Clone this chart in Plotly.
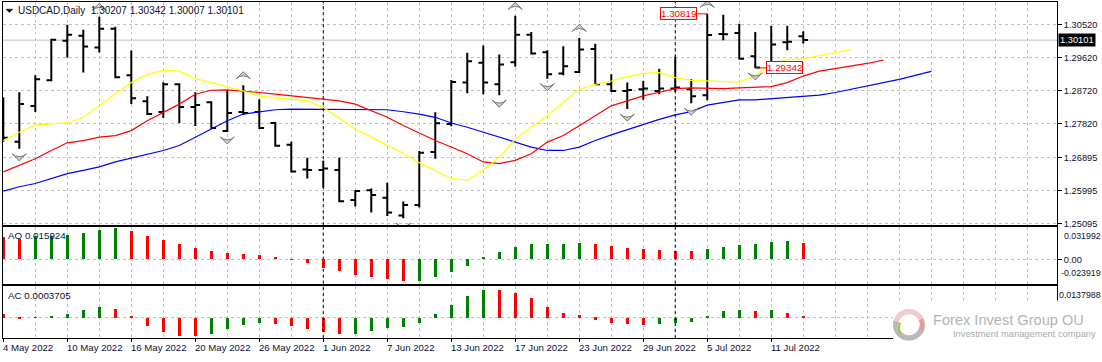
import numpy as np
import plotly.graph_objects as go

W, H = 1102, 362

# ---------------- data ----------------
date_labels = ["4 May 2022", "10 May 2022", "16 May 2022", "20 May 2022", "26 May 2022",
               "1 Jun 2022", "7 Jun 2022", "13 Jun 2022", "17 Jun 2022", "23 Jun 2022",
               "29 Jun 2022", "5 Jul 2022", "11 Jul 2022"]
date_label_bars = [0, 4, 8, 12, 16, 20, 24, 28, 32, 36, 40, 44, 48]
month_start_bars = [20, 42]

open_ = [1.27729, 1.27322, 1.28298, 1.29002, 1.30086, 1.30222, 1.29897, 1.30412, 1.29138, 1.28433,
         1.28135, 1.28894, 1.28271, 1.28406, 1.27620, 1.28135, 1.28135, 1.27837, 1.27241, 1.26563,
         1.26550, 1.26550, 1.25731, 1.26002, 1.25796, 1.25309, 1.25596, 1.27043, 1.27810, 1.28940,
         1.29482, 1.28894, 1.29498, 1.30249, 1.29769, 1.29192, 1.29227, 1.29861, 1.28894, 1.28712,
         1.28758, 1.28712, 1.28777, 1.28758, 1.28596, 1.30268, 1.30295, 1.29661, 1.29482, 1.30040,
         1.30207]
high = [1.28542, 1.28677, 1.29138, 1.30141, 1.30520, 1.30384, 1.30737, 1.30466, 1.29815, 1.28569,
        1.28948, 1.28921, 1.28677, 1.28433, 1.28731, 1.28867, 1.28487, 1.27864, 1.27322, 1.26889,
        1.26807, 1.26889, 1.26002, 1.26048, 1.26203, 1.25688, 1.27070, 1.28127, 1.29011, 1.29753,
        1.29951, 1.29707, 1.30764, 1.30322, 1.29824, 1.29932, 1.30160, 1.30005, 1.29165, 1.28940,
        1.28983, 1.29319, 1.29645, 1.29029, 1.30819, 1.30791, 1.30547, 1.30322, 1.30493, 1.30493,
        1.30342]
low = [1.27322, 1.27132, 1.28135, 1.28975, 1.29626, 1.29219, 1.29761, 1.29057, 1.28352, 1.28054,
       1.27973, 1.27837, 1.27756, 1.27675, 1.27593, 1.28054, 1.27674, 1.27187, 1.26482, 1.26319,
       1.26076, 1.25669, 1.25553, 1.25390, 1.25298, 1.25235, 1.25525, 1.26861, 1.27748, 1.28650,
       1.28623, 1.28596, 1.29374, 1.29707, 1.29048, 1.29138, 1.29200, 1.28867, 1.28685, 1.28216,
       1.28469, 1.28623, 1.28690, 1.28379, 1.28460, 1.30095, 1.29570, 1.29342, 1.29409, 1.29824,
       1.30007]
close = [1.27431, 1.28352, 1.29029, 1.30113, 1.30249, 1.29924, 1.30412, 1.29084, 1.28515, 1.28081,
         1.28894, 1.28271, 1.28325, 1.27702, 1.28108, 1.28108, 1.27702, 1.27214, 1.26509, 1.26550,
         1.26590, 1.25696, 1.25975, 1.25867, 1.25390, 1.25596, 1.27024, 1.27829, 1.28956, 1.29525,
         1.28940, 1.29436, 1.30249, 1.29734, 1.29165, 1.29390, 1.29842, 1.28894, 1.28712, 1.28740,
         1.28777, 1.28777, 1.28805, 1.28569, 1.30241, 1.30260, 1.29590, 1.29350, 1.29978, 1.30059,
         1.30101]

# Alligator lines (already shifted forward: lips 3, teeth 5, jaw 8 bars)
lips = [1.27357, 1.27585, 1.27783, 1.27810, 1.27837, 1.27992, 1.28306, 1.28642, 1.28940, 1.29165,
        1.29273, 1.29254, 1.29048, 1.28940, 1.28832, 1.28712, 1.28577, 1.28515, 1.28487, 1.28441,
        1.28263, 1.27973, 1.27674, 1.27450, 1.27222, 1.27011, 1.26753, 1.26544, 1.26319, 1.26273,
        1.26544, 1.26908, 1.27403, 1.27721, 1.28035, 1.28398, 1.28758, 1.28894, 1.28983, 1.29103,
        1.29192, 1.29211, 1.29076, 1.29002, 1.28983, 1.28983, 1.28956, 1.29119, 1.29436, 1.29571,
        1.29590, 1.29680, 1.29769, 1.29842]
teeth = [1.26501, 1.26680, 1.26861, 1.27086, 1.27295, 1.27357, 1.27450, 1.27493, 1.27628, 1.27899,
         1.28127, 1.28352, 1.28623, 1.28731, 1.28740, 1.28712, 1.28669, 1.28623, 1.28577, 1.28515,
         1.28487, 1.28441, 1.28352, 1.28170, 1.27992, 1.27769, 1.27566, 1.27357, 1.27179, 1.26997,
         1.26772, 1.26726, 1.26815, 1.26997, 1.27314, 1.27493, 1.27764, 1.28035, 1.28306, 1.28441,
         1.28577, 1.28677, 1.28777, 1.28794, 1.28777, 1.28777, 1.28794, 1.28821, 1.28832, 1.28940,
         1.29119, 1.29254, 1.29319, 1.29390, 1.29463, 1.29553]
jaw = [1.25975, 1.26095, 1.26184, 1.26319, 1.26455, 1.26544, 1.26637, 1.26772, 1.26880, 1.26997,
       1.27086, 1.27222, 1.27450, 1.27674, 1.27899, 1.28081, 1.28143, 1.28198, 1.28216, 1.28216,
       1.28216, 1.28198, 1.28198, 1.28216, 1.28198, 1.28143, 1.28081, 1.27992, 1.27837, 1.27721,
       1.27585, 1.27450, 1.27314, 1.27179, 1.27086, 1.27086, 1.27179, 1.27357, 1.27512, 1.27656,
       1.27810, 1.27937, 1.28059, 1.28149, 1.28325, 1.28398, 1.28469, 1.28469, 1.28506, 1.28534,
       1.28561, 1.28596, 1.28669, 1.28758, 1.28832, 1.28921, 1.29029, 1.29138, 1.29246]

fractal_up_bars = [6, 15, 32, 36, 44]
fractal_down_bars = [1, 14, 25, 31, 34, 39, 43, 47]

ao = [0.0223, 0.0200, 0.0231, 0.0233, 0.0236, 0.0263, 0.0293, 0.0307, 0.0283, 0.0233,
      0.0193, 0.0153, 0.0113, 0.0083, 0.0063, 0.0053, 0.0043, 0.0023, 0.0003, -0.0033,
      -0.0083, -0.0113, -0.0153, -0.0173, -0.0193, -0.0218, -0.0216, -0.0177, -0.0127, -0.0067,
      0.0020, 0.0070, 0.0120, 0.0147, 0.0150, 0.0153, 0.0160, 0.0150, 0.0130, 0.0110,
      0.0100, 0.0090, 0.0082, 0.0079, 0.0100, 0.0120, 0.0140, 0.0150, 0.0170, 0.0180,
      0.015924]
ac = [0.00172, -0.00073, 0.00030, 0.00056, 0.00172, 0.00345, 0.00474, 0.00388, 0.00086, -0.00375,
      -0.00634, -0.00806, -0.00815, -0.00720, -0.00504, -0.00332, -0.00246, -0.00289, -0.00375, -0.00504,
      -0.00634, -0.00720, -0.00711, -0.00590, -0.00461, -0.00418, -0.00246, 0.00172, 0.00560, 0.00948,
      0.01207, 0.01194, 0.01078, 0.00862, 0.00474, 0.00216, 0.00129, -0.00086, -0.00216, -0.00259,
      -0.00302, -0.00259, -0.00216, -0.00172, 0.00086, 0.00302, 0.00345, 0.00302, 0.00345, 0.00216,
      0.0003705]

price_ticks = [1.30520, 1.29620, 1.28720, 1.27820, 1.26895, 1.25995, 1.25095]
ao_max_label, ao_min_label = 0.031992, -0.023919
ac_max_label = 0.0137988
symbol_text = "USDCAD,Daily"

# ---------------- layout helpers ----------------
FONT = "Liberation Sans, Arial, sans-serif"
FS = 9.3
GRID = "#c0c0c0"
GREEN, RED = "#008000", "#ff0000"
TXT = "#101030"


def px_x(x):
    return x / W


def px_y(y):
    return 1 - y / H


X_DOM = [px_x(2.5), px_x(1057)]
MAIN_DOM = [px_y(227), px_y(2)]
AO_DOM = [px_y(286), px_y(229)]
AC_DOM = [px_y(341), px_y(288)]
X_RANGE = [-0.05, 65.86]
MAIN_RANGE = [1.25046, 1.31143]

bars = list(range(len(open_)))


def osc_colors(vals):
    cols = [RED]
    for i in range(1, len(vals)):
        cols.append(GREEN if vals[i] > vals[i - 1] else RED)
    return cols


fig = go.Figure()

# Alligator
for vals, col in [(jaw, "#0000ff"), (teeth, "#ff0000"), (lips, "#ffff00")]:
    fig.add_trace(go.Scatter(x=list(range(len(vals))), y=vals, mode="lines",
                             line=dict(color=col, width=1.2), hoverinfo="skip",
                             xaxis="x", yaxis="y"))

# Price bars
fig.add_trace(go.Ohlc(x=bars, open=open_, high=high, low=low, close=close,
                      increasing=dict(line=dict(color="black", width=2)),
                      decreasing=dict(line=dict(color="black", width=2)),
                      tickwidth=0.3, hoverinfo="skip", xaxis="x", yaxis="y"))

# Fractals (marker tip sits at the given price)
up_off = 0.0037
dn_off = 0.0033
fig.add_trace(go.Scatter(x=fractal_up_bars, y=[high[i] + up_off for i in fractal_up_bars],
                         mode="markers", hoverinfo="skip", xaxis="x", yaxis="y",
                         marker=dict(symbol="arrow-wide", angle=0, size=10, color="#cccccc",
                                     line=dict(color="#777777", width=1))))
fig.add_trace(go.Scatter(x=fractal_down_bars, y=[low[i] - dn_off for i in fractal_down_bars],
                         mode="markers", hoverinfo="skip", xaxis="x", yaxis="y",
                         marker=dict(symbol="arrow-wide", angle=180, size=10, color="#cccccc",
                                     line=dict(color="#777777", width=1))))

# AO / AC
fig.add_trace(go.Bar(x=bars, y=ao, marker=dict(color=osc_colors(ao), line=dict(width=0)),
                     width=0.17, hoverinfo="skip", xaxis="x2", yaxis="y2"))
fig.add_trace(go.Bar(x=bars, y=ac, marker=dict(color=osc_colors(ac), line=dict(width=0)),
                     width=0.17, hoverinfo="skip", xaxis="x3", yaxis="y3"))

major_x = date_label_bars
minor_x = [i for i in range(0, 66, 2) if i not in major_x]


def xaxis_cfg(anchor, ticks):
    return dict(domain=X_DOM, range=X_RANGE, anchor=anchor, showticklabels=False,
                tickmode="array", tickvals=major_x, ticks="outside" if ticks else "",
                ticklen=3, tickcolor="black", showgrid=True, gridcolor=GRID, gridwidth=1,
                griddash="3px,3px",
                minor=dict(tickvals=minor_x, showgrid=True, gridcolor=GRID, griddash="3px,3px",
                           ticks=""),
                showline=True, mirror=True, linecolor="black", linewidth=1, zeroline=False,
                rangeslider=dict(visible=False), fixedrange=True)


fig.update_layout(
    width=W, height=H, margin=dict(l=0, r=0, t=0, b=0),
    paper_bgcolor="white", plot_bgcolor="white", showlegend=False, bargap=0,
    font=dict(family=FONT, size=FS, color="black"),
    xaxis=xaxis_cfg("y", False),
    xaxis2=xaxis_cfg("y2", False),
    xaxis3=xaxis_cfg("y3", True),
    yaxis=dict(domain=MAIN_DOM, range=MAIN_RANGE, anchor="x", side="right",
               tickmode="array", tickvals=price_ticks, ticktext=[f"{v:.5f}" for v in price_ticks],
               ticks="outside", ticklen=4, tickcolor="black", tickfont=dict(size=FS, color=TXT),
               showgrid=True, gridcolor=GRID, griddash="3px,3px",
               showline=True, mirror=True, linecolor="black", linewidth=1, zeroline=False),
    yaxis2=dict(domain=AO_DOM, range=[ao_min_label, ao_max_label], anchor="x2", side="right",
                tickmode="array", tickvals=[0], ticktext=["0.00"], ticks="outside", ticklen=4,
                tickcolor="black", tickfont=dict(size=FS, color=TXT), showgrid=True, gridcolor=GRID,
                griddash="3px,3px", showline=True, mirror=True, linecolor="black", linewidth=1,
                zeroline=False),
    yaxis3=dict(domain=AC_DOM, range=[-0.00905, ac_max_label], anchor="x3", side="right",
                tickmode="array", tickvals=[0], showticklabels=False, ticks="",
                showgrid=True, gridcolor=GRID, griddash="3px,3px", showline=True, mirror=True,
                linecolor="black", linewidth=1, zeroline=False),
)

shapes = []
ann = []

# bid line
shapes.append(dict(type="line", xref="x domain", yref="y", x0=0, x1=1, y0=close[-1], y1=close[-1],
                   line=dict(color="#c0c0c0", width=1), layer="below"))
# month separators
for b in month_start_bars:
    for xr, yr in [("x", "y domain"), ("x2", "y2 domain"), ("x3", "y3 domain")]:
        shapes.append(dict(type="line", xref=xr, yref=yr, x0=b, x1=b, y0=0, y1=1,
                           line=dict(color="black", width=1, dash="3px,3px"), layer="above"))

# title triangle
tri = f"M {px_x(6)},{px_y(9.3)} L {px_x(12.7)},{px_y(9.3)} L {px_x(9.35)},{px_y(12.6)} Z"
shapes.append(dict(type="path", xref="paper", yref="paper", path=tri,
                   fillcolor="black", line=dict(color="black", width=0.5)))

ann.append(dict(xref="paper", yref="paper", x=px_x(16), y=px_y(10.7), xanchor="left", yanchor="middle",
                showarrow=False,
                text=f"{symbol_text}  {open_[-1]:.5f} {high[-1]:.5f} {low[-1]:.5f} {close[-1]:.5f}",
                font=dict(size=10, color=TXT)))

# current price box
ann.append(dict(xref="paper", yref="y", x=px_x(1058), y=close[-1], xanchor="left", yanchor="middle",
                showarrow=False, text=f"{close[-1]:.5f}", bgcolor="black", borderpad=1,
                font=dict(size=FS, color="white")))

# high / low markers
hi_i = int(np.argmax(high))
lo_i = 47
ann.append(dict(xref="x", yref="y", x=hi_i - 0.63, y=high[hi_i], xanchor="right", yanchor="middle",
                showarrow=False, text=f"{high[hi_i]:.5f}", bgcolor="white", bordercolor=RED,
                borderwidth=1, borderpad=0, font=dict(size=9.8, color=RED)))
shapes.append(dict(type="line", xref="x", yref="y", x0=hi_i - 0.63, x1=hi_i, y0=high[hi_i], y1=high[hi_i],
                   line=dict(color=RED, width=1)))
ann.append(dict(xref="x", yref="y", x=lo_i + 0.66, y=low[lo_i], xanchor="left", yanchor="middle",
                showarrow=False, text=f"{low[lo_i]:.5f}", bgcolor="white", bordercolor=RED,
                borderwidth=1, borderpad=0, font=dict(size=9.8, color=RED)))
shapes.append(dict(type="line", xref="x", yref="y", x0=lo_i, x1=lo_i + 0.66, y0=low[lo_i], y1=low[lo_i],
                   line=dict(color=RED, width=1)))

# indicator labels
ann.append(dict(xref="paper", yref="paper", x=px_x(6), y=px_y(237.3), xanchor="left", yanchor="middle",
                showarrow=False, text=f"AO {ao[-1]:.6f}", font=dict(size=9.8, color=TXT)))
ann.append(dict(xref="paper", yref="paper", x=px_x(6), y=px_y(297.7), xanchor="left", yanchor="middle",
                showarrow=False, text=f"AC {ac[-1]:.7f}", font=dict(size=9.8, color=TXT)))
for txt, yy in [(f"{ao_max_label:.6f}", 237.7), (f"{ao_min_label:.6f}", 275.7), (f"{ac_max_label:.7f}", 297.7)]:
    ann.append(dict(xref="paper", yref="paper", x=1.0, y=px_y(yy), xanchor="right", yanchor="middle",
                    showarrow=False, text=txt, borderpad=0, font=dict(size=8.8, color=TXT)))

# date labels
for b, t in zip(date_label_bars, date_labels):
    ann.append(dict(xref="x3", yref="paper", x=b, y=px_y(350.5), xanchor="left", yanchor="middle",
                    xshift=-2, showarrow=False, text=t, font=dict(size=9.6, color=TXT)))

# ---------------- logo ----------------
shapes.append(dict(type="rect", xref="paper", yref="paper", x0=px_x(893), x1=px_x(1094),
                   y0=px_y(346), y1=px_y(303), fillcolor="white", line=dict(width=0), layer="above"))


def ring(cx, cy, r0, r1, t0, t1, n=40):
    t = np.radians(np.linspace(t0, t1, n))
    pts = [(cx + r1 * np.cos(a), cy - r1 * np.sin(a)) for a in t]
    pts += [(cx + r0 * np.cos(a), cy - r0 * np.sin(a)) for a in t[::-1]]
    return "M " + " L ".join(f"{px_x(x):.5f},{px_y(y):.5f}" for x, y in pts) + " Z"


cx, cy = 909, 327.5
shapes.append(dict(type="path", xref="paper", yref="paper", path=ring(cx, cy, 10.5, 16, 160, 350),
                   fillcolor="#b9b9b9", line=dict(width=0), layer="above"))
shapes.append(dict(type="path", xref="paper", yref="paper", path=ring(cx, cy, 10.5, 16, -10, 165),
                   fillcolor="#f2cccc", line=dict(width=0), layer="above"))
shapes.append(dict(type="path", xref="paper", yref="paper", path=ring(cx, cy, 11, 15.5, -25, 25),
                   fillcolor="#e59a9a", line=dict(width=0), layer="above"))
g = np.radians(np.linspace(150, 215, 12))
gpath = "M " + " L ".join(f"{px_x(cx + 10 * np.cos(a)):.5f},{px_y(cy + 3 - 10 * np.sin(a)):.5f}" for a in g)
shapes.append(dict(type="path", xref="paper", yref="paper", path=gpath,
                   line=dict(color="#9acd32", width=2), layer="above"))

ann.append(dict(xref="paper", yref="paper", x=px_x(931), y=px_y(322.5), xanchor="left", yanchor="middle",
                showarrow=False, text="Forex Invest Group OU",
                font=dict(family="Liberation Sans, Arial, sans-serif", size=14.6, color="#b4b4b4")))
ann.append(dict(xref="paper", yref="paper", x=px_x(951), y=px_y(337), xanchor="left", yanchor="middle",
                showarrow=False, text="Investment management company",
                font=dict(family=FONT, size=9.3, color="#a9a9a9")))

fig.update_layout(shapes=shapes, annotations=ann)
fig.write_html("out.html")
